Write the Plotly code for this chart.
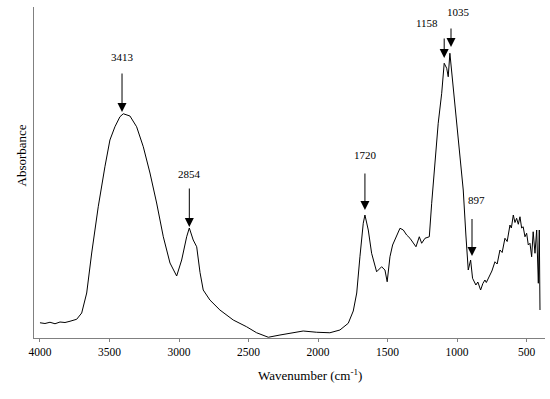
import plotly.graph_objects as go

# Spectrum (wavenumber in cm-1, absorbance in arbitrary units)
wavenumber = [4000, 3964, 3928, 3892, 3856, 3820, 3784, 3736, 3700, 3664, 3628, 3581, 3533,
              3497, 3461, 3425, 3401, 3382, 3353, 3305, 3257, 3209, 3161, 3113, 3065, 3017,
              2981, 2945, 2926, 2898, 2873, 2849, 2826, 2778, 2706, 2610, 2514, 2442, 2358,
              2274, 2154, 2107, 2010, 1915, 1843, 1783, 1747, 1722, 1699, 1675, 1663, 1639,
              1615, 1579, 1543, 1519, 1503, 1483, 1464, 1435, 1411, 1387, 1363, 1339, 1316,
              1296, 1272, 1255, 1231, 1200, 1183, 1159, 1136, 1111, 1093, 1075, 1064, 1052,
              1028, 1004, 980, 956, 937, 920, 903, 889, 865, 851, 831, 815, 800, 790, 764,
              750, 728, 712, 692, 676, 656, 640, 620, 610, 596, 584, 572, 560, 548, 536, 525,
              512, 500, 488, 476, 464, 453, 440, 428, 416, 409, 404]
absorbance = [0.061, 0.058, 0.063, 0.057, 0.064, 0.062, 0.067, 0.075, 0.100, 0.180, 0.340, 0.525,
              0.685, 0.792, 0.845, 0.885, 0.897, 0.893, 0.888, 0.845, 0.765, 0.660, 0.540, 0.405,
              0.300, 0.248, 0.312, 0.405, 0.440, 0.392, 0.365, 0.262, 0.192, 0.152, 0.112, 0.072,
              0.045, 0.021, 0.003, 0.012, 0.025, 0.028, 0.023, 0.021, 0.032, 0.059, 0.108, 0.180,
              0.325, 0.459, 0.492, 0.432, 0.339, 0.265, 0.285, 0.272, 0.225, 0.325, 0.372, 0.405,
              0.439, 0.432, 0.412, 0.399, 0.379, 0.365, 0.405, 0.379, 0.399, 0.405, 0.539, 0.699,
              0.859, 0.979, 1.099, 1.079, 1.045, 1.139, 1.005, 0.859, 0.725, 0.592, 0.412, 0.272,
              0.312, 0.239, 0.212, 0.224, 0.192, 0.218, 0.232, 0.222, 0.252, 0.268, 0.305, 0.296,
              0.352, 0.342, 0.399, 0.386, 0.452, 0.440, 0.492, 0.462, 0.479, 0.455, 0.485, 0.440,
              0.445, 0.405, 0.419, 0.372, 0.379, 0.325, 0.425, 0.339, 0.432, 0.219, 0.432, 0.112]

# Peak annotations
peak_labels = ["3413", "2854", "1720", "1158", "1035", "897"]
arrow_x = [3410, 2926, 1663, 1093, 1044, 893]
arrow_tip = [0.904, 0.444, 0.512, 1.120, 1.164, 0.328]
arrow_tail = [1.064, 0.604, 0.664, 1.204, 1.244, 0.482]
label_x = [3410, 2926, 1656, 1215, 992, 860]
label_y = [1.124, 0.656, 0.732, 1.260, 1.304, 0.552]

x_ticks = [4000, 3500, 3000, 2500, 2000, 1500, 1000, 500]
x_range = [4043, 368]
y_range = [0, 1.324]

FONT = "Liberation Serif, Times New Roman, serif"

fig = go.Figure()
fig.add_trace(go.Scatter(x=wavenumber, y=absorbance, mode="lines",
                         line=dict(color="black", width=1), hoverinfo="skip",
                         showlegend=False))

annotations = []
for ax_, tip, tail in zip(arrow_x, arrow_tip, arrow_tail):
    annotations.append(dict(x=ax_, y=tip, ax=ax_, ay=tail, xref="x", yref="y",
                            axref="x", ayref="y", text="", showarrow=True,
                            arrowhead=2, arrowsize=1.8, arrowwidth=1,
                            arrowcolor="black"))
for txt, lx, ly in zip(peak_labels, label_x, label_y):
    annotations.append(dict(x=lx, y=ly, xref="x", yref="y", text=txt,
                            showarrow=False, font=dict(family=FONT, size=11, color="black")))
annotations.append(dict(x=0.541, y=0, xref="paper", yref="paper", yshift=-47,
                        text="Wavenumber (cm<sup>-1</sup>)", showarrow=False,
                        font=dict(family=FONT, size=13, color="black")))
annotations.append(dict(x=0, y=0.55, xref="paper", yref="paper", xshift=-22,
                        text="Absorbance", textangle=-90, showarrow=False,
                        font=dict(family=FONT, size=13, color="black")))

fig.update_layout(
    width=550, height=399,
    margin=dict(l=34, r=5, t=7, b=61),
    paper_bgcolor="white", plot_bgcolor="white",
    annotations=annotations,
    xaxis=dict(range=x_range, tickvals=x_ticks, ticktext=[str(v) for v in x_ticks],
               showgrid=False, zeroline=False, showline=True, linecolor="#808080",
               linewidth=1, ticks="outside", ticklen=3, tickcolor="#808080",
               tickfont=dict(family=FONT, size=11.5, color="black")),
    yaxis=dict(range=y_range, showgrid=False, zeroline=False, showline=True,
               linecolor="#808080", linewidth=1, showticklabels=False, ticks=""),
)

fig.write_html("out.html", config={"displayModeBar": False},
               post_script="document.body.style.margin='0';document.body.style.overflow='hidden';")
